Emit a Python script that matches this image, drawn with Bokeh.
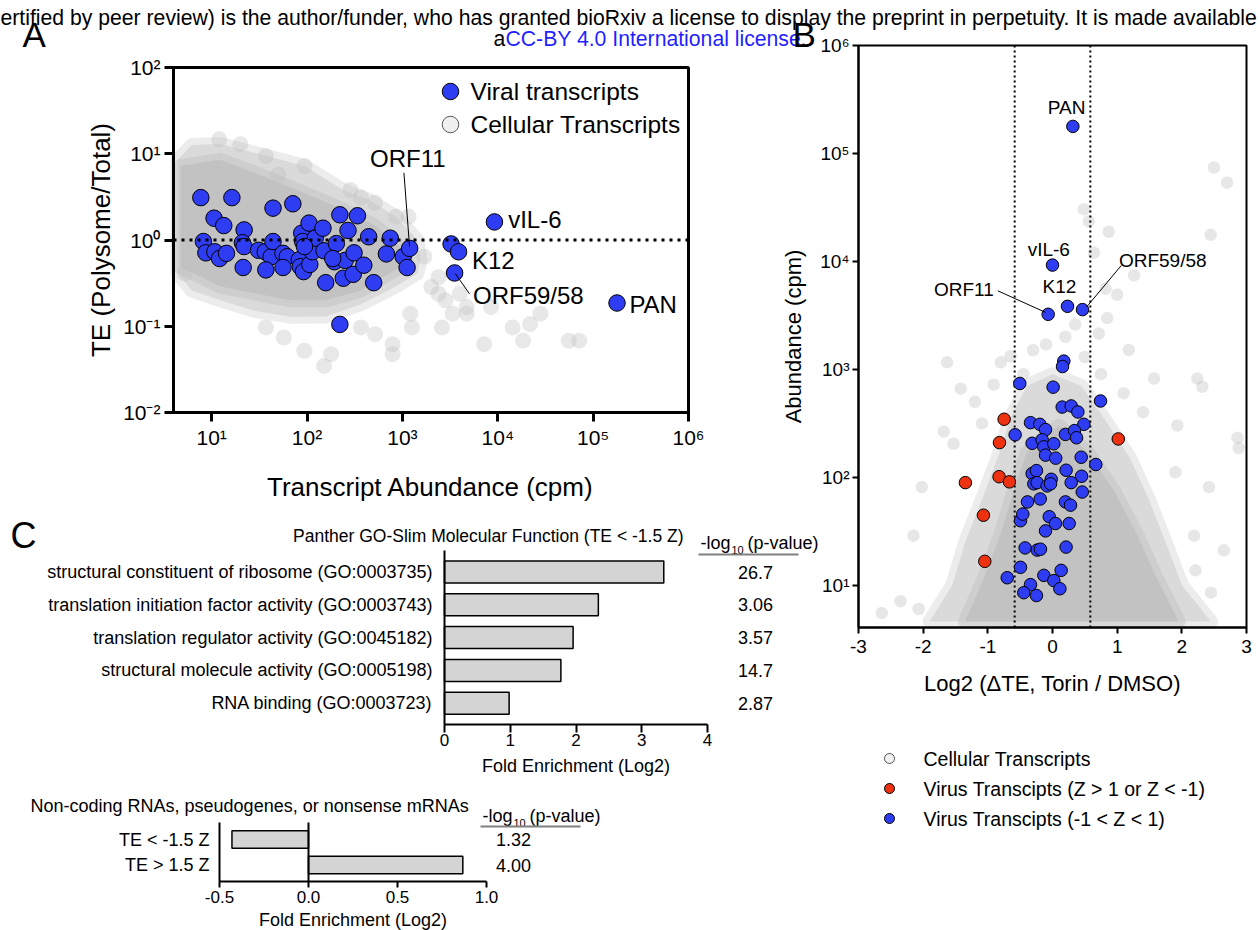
import math
from bokeh.plotting import figure
from bokeh.models import (Range1d, LogScale, LinearAxis, LogAxis, FixedTicker,
                          CustomJSTickFormatter, NumeralTickFormatter)
from bokeh.core.properties import value
from bokeh.embed import file_html
from bokeh.resources import INLINE

# ===================== DATA =====================
# ---- Panel A: TE vs transcript abundance ----
viral_a_cpm = [7.7, 16.3, 44, 71, 10.6, 13.4, 21.9, 8.2, 8.7, 10.8, 12.1, 14.3, 21, 21.9, 21.4,
               31, 36.5, 42, 44, 37, 56, 62, 56, 88, 90, 105, 83, 85, 92, 107, 114, 122, 147, 151,
               157, 194, 203, 221, 269, 240, 251, 311, 305, 338, 394, 443, 500, 680, 746, 1020,
               1120, 1190, 221, 3240, 3880, 3530, 9230, 178000, 94, 186]
viral_a_te = [3.1, 3.1, 2.34, 2.63, 1.79, 1.47, 1.31, 0.96, 0.71, 0.73, 0.61, 0.70, 0.93, 0.84,
              0.48, 0.76, 0.73, 0.64, 0.96, 0.45, 0.70, 0.64, 0.48, 1.20, 0.96, 1.57, 0.59, 0.49,
              0.43, 0.52, 0.73, 1.05, 1.37, 0.75, 0.32, 0.56, 0.91, 1.96, 1.29, 0.36, 0.58, 0.71,
              0.40, 1.91, 0.51, 1.09, 0.32, 0.69, 1.05, 0.64, 0.48, 0.80, 0.105, 0.90, 0.73,
              0.415, 1.62, 0.186, 0.84, 0.61]
# sparse cellular transcripts (outside the dense cloud)
cell_a_cpm = [12, 20, 37, 50, 94, 285, 368, 517, 861, 1160, 1700, 2010, 2390, 2830, 3360, 4720,
              2600, 1260, 1210, 790, 790, 517, 368, 179, 151, 94, 57, 37, 7200, 14300, 18400,
              21800, 55500, 71600, 5.2, 2390, 4000, 4720, 8500, 3360, 28100]
cell_a_te = [14.7, 12.9, 9.4, 5.7, 7.2, 3.8, 3.1, 2.7, 1.87, 1.87, 0.64, 0.285, 0.238, 0.20,
             0.14, 0.14, 0.097, 0.097, 0.14, 0.062, 0.0475, 0.081, 0.097, 0.0475, 0.0347, 0.052,
             0.074, 0.097, 0.062, 0.097, 0.068, 0.106, 0.068, 0.068, 0.41, 0.37, 0.238, 0.167,
             0.167, 0.41, 0.14]
# envelope of the dense cloud of cellular transcripts
cloud_a_outer_cpm = [4.4, 6.2, 12.3, 28.7, 94, 240, 437, 861, 1435, 1550,
                     1435, 861, 368, 157, 67, 28.7, 12.3, 6.2, 4.4]
cloud_a_outer_te = [8.5, 12.6, 13, 10.2, 7.2, 3.8, 2.95, 1.86, 1.0, 0.59,
                    0.41, 0.29, 0.18, 0.13, 0.129, 0.15, 0.2, 0.26, 0.41]
cloud_a_core_cpm = [4.7, 12.3, 28.7, 94, 240, 523, 950, 950, 368, 157, 67, 28.7, 12.3, 4.7]
cloud_a_core_te = [7.2, 8.5, 6.0, 3.5, 2.24, 1.45, 0.83, 0.49, 0.26, 0.2, 0.2, 0.24, 0.29, 0.49]

# ---- Panel B: abundance vs log2 delta TE ----
blue_b_dte = [0.315, 0.0, -0.067, 0.232, 0.464, 0.175, 0.155, -0.506, 0.01, 0.743, 0.15, 0.289,
              0.392, -0.34, -0.196, -0.108, 0.485, -0.578, -0.315, -0.16, -0.134, 0.02, 0.2,
              0.34, 0.372, -0.108, 0.05, 0.444, 0.67, 0.21, -0.315, -0.248, 0.45, -0.02, -0.289,
              -0.237, -0.083, -0.03, 0.289, 0.46, -0.387, -0.19, 0.2, 0.279, -0.495, -0.459,
              -0.05, 0.046, 0.258, -0.108, -0.423, -0.237, -0.186, 0.21, -0.495, -0.7, -0.134,
              0.134, 0.02, -0.34, 0.114, -0.444, -0.248]
blue_b_cpm = [178000, 9230, 3230, 3830, 3570, 1190, 1060, 738, 682, 508, 446, 457, 402, 320,
              309, 276, 309, 247, 206, 222, 191, 204, 249, 270, 232, 160, 150, 153, 131, 116,
              108, 115, 102, 95.6, 86.7, 89, 83, 86.7, 89, 72.8, 59, 62.8, 59, 55, 39.5, 45.5,
              43, 37.2, 37.2, 31.8, 22.1, 21.1, 21.5, 22.5, 14.6, 11.7, 12.3, 13.7, 11, 10.1,
              9.25, 8.5, 8.0]
red_b_dte = [-0.748, -0.82, 1.017, -1.347, -0.826, -0.666, -1.068, -1.047]
red_b_cpm = [344, 209, 226, 89, 101, 90.5, 44.4, 16.6]
cell_b_dte = [2.497, 2.7, 2.446, 0.485, 0.87, 0.56, 0.64, 1.0, 0.82, 1.26, 0.846, 0.717, 1.18,
              1.57, 2.317, 2.24, 1.93, 2.86, 2.88, -1.63, -1.42, -1.09, -1.68, -1.53, -2.02,
              -2.15, -2.35, -2.64, -2.07, 2.45, 2.21, 2.65, 2.19, 2.42, 1.9, -0.8, -0.91, -0.65,
              -0.3, 0.2, 0.5, 0.75, -0.45, 1.1, -1.2, 1.4, 0.35, -0.1]
cell_b_cpm = [74000, 53600, 17600, 30400, 18800, 23500, 12000, 4900, 5570, 7400, 2980, 2140,
              1510, 820, 689, 820, 301, 232, 186, 1160, 661, 315, 264, 204, 81, 28.7, 7.1, 5.5,
              6.0, 8.5, 13.7, 21, 28.7, 81, 111, 1160, 720, 1320,
              1500, 2000, 1300, 900, 900, 600, 500, 400, 2600, 1700]
cloud_b_outer_dte = [-1.9, -1.55, -1.35, -1.1, -0.85, -0.65, -0.4, 0.0, 0.45, 0.8, 1.2, 1.5,
                     1.75, 2.0, 2.45]
cloud_b_outer_cpm = [4.6, 10, 25, 60, 150, 350, 700, 900, 700, 350, 150, 60, 25, 10, 4.6]
cloud_b_core_dte = [-1.35, -1.05, -0.8, -0.6, -0.4, 0.1, 0.55, 0.95, 1.3, 1.6, 1.95]
cloud_b_core_cpm = [4.6, 12, 30, 75, 170, 300, 170, 75, 30, 12, 4.6]

# ---- Panel C ----
go_terms = ["structural constituent of ribosome (GO:0003735)",
            "translation initiation factor activity (GO:0003743)",
            "translation regulator activity (GO:0045182)",
            "structural molecule activity (GO:0005198)",
            "RNA binding (GO:0003723)"]
go_fold = [3.335, 2.34, 1.956, 1.77, 0.983]
go_pval = ["26.7", "3.06", "3.57", "14.7", "2.87"]
nc_groups = ["TE < -1.5 Z", "TE > 1.5 Z"]
nc_fold = [-0.43, 0.867]
nc_pval = ["1.32", "4.00"]

# ===================== LAYOUT / STYLE =====================
W, H = 1260, 930
FONT = "Liberation Sans"
BLUE = "#2f3df2"
RED = "#ee3110"
GRAY_OUT = "#dadada"
GRAY_CORE = "#c2c2c2"

SUP_JS = """
const sup = {"-": "\u207b", "0": "\u2070", "1": "\u00b9", "2": "\u00b2", "3": "\u00b3",
             "4": "\u2074", "5": "\u2075", "6": "\u2076", "7": "\u2077", "8": "\u2078", "9": "\u2079"};
const e = String(Math.round(Math.log10(tick)));
let s = "";
for (const c of e) { s += sup[c]; }
return "10" + s;
"""


def lin_range(v0, p0, v1, p1, size, flip=False):
    """Range over the whole canvas so that value v0 sits at pixel p0 and v1 at pixel p1."""
    k = (v1 - v0) / (p1 - p0)
    a = v0 - k * p0
    if flip:  # vertical: range start is at the canvas bottom
        return Range1d(a + k * size, a)
    return Range1d(a, a + k * size)


def log_range(v0, p0, v1, p1, size, flip=False):
    r = lin_range(math.log10(v0), p0, math.log10(v1), p1, size, flip)
    return Range1d(10 ** r.start, 10 ** r.end)


p = figure(width=W, height=H, output_backend="svg", toolbar_location=None,
           x_range=Range1d(0, W), y_range=Range1d(H, 0),
           x_axis_type=None, y_axis_type=None, min_border=0)
p.outline_line_color = None
p.background_fill_color = "white"
p.border_fill_color = "white"

# panel frames in page pixels
A_L, A_R, A_T, A_B = 173, 688, 67, 412
B_L, B_R, B_T, B_B = 858, 1246, 45, 627
A_X0, A_X1, A_Y0, A_Y1 = 10 ** 0.6, 1e6, 0.01, 100
B_X0, B_X1, B_Y0, B_Y1 = -3, 3, 10 ** 0.607, 1e6

p.extra_x_ranges = {
    "ax": log_range(A_X0, A_L, A_X1, A_R, W),
    "bx": lin_range(B_X0, B_L, B_X1, B_R, W),
    "c1x": lin_range(0, 444, 4, 707, W),
    "c2x": lin_range(-0.5, 219, 1.0, 486, W),
}
p.extra_y_ranges = {
    "ay": log_range(A_Y0, A_B, A_Y1, A_T, H, flip=True),
    "by": log_range(B_Y0, B_B, B_Y1, B_T, H, flip=True),
    "c1y": lin_range(0, 571.5, 1, 604.3, H, flip=True),
    "c2y": lin_range(0, 839, 1, 864.5, H, flip=True),
}
p.extra_x_scales = {"ax": LogScale()}
p.extra_y_scales = {"ay": LogScale(), "by": LogScale()}

RA = dict(x_range_name="ax", y_range_name="ay")
RB = dict(x_range_name="bx", y_range_name="by")
RC1 = dict(x_range_name="c1x", y_range_name="c1y")
RC2 = dict(x_range_name="c2x", y_range_name="c2y")


def add_axis(cls, side, rng, loc, bounds, ticks, lw, tick_out, lab_px, standoff,
             formatter=None, overrides=None):
    ax = cls(fixed_location=loc, bounds=bounds, ticker=FixedTicker(ticks=ticks), **rng)
    ax.axis_line_color = "black"
    ax.axis_line_width = lw
    ax.major_tick_line_color = "black" if tick_out > 0 else None
    ax.major_tick_line_width = lw
    ax.major_tick_out = tick_out
    ax.major_tick_in = 0
    ax.minor_tick_line_color = None
    ax.major_label_text_font = FONT
    ax.major_label_text_font_size = f"{lab_px}px"
    ax.major_label_text_color = "black"
    ax.major_label_standoff = standoff
    if formatter is not None:
        ax.formatter = formatter
    if overrides is not None:
        ax.major_label_overrides = overrides
    p.add_layout(ax, side)
    return ax


def txt(x, y, t, size, align="left", baseline="middle", color="black", rng=None, **kw):
    p.text(x=x, y=y, text=t, text_font=value(FONT), text_font_size=f"{size}px",
           text_align=align, text_baseline=baseline, text_color=color, **(rng or {}), **kw)


# ===================== PANEL A =====================
p.patch(cloud_a_outer_cpm, cloud_a_outer_te, fill_color=GRAY_OUT, line_color=GRAY_OUT,
        line_width=14, line_alpha=0.5, line_join="round", **RA)
p.patch(cloud_a_core_cpm, cloud_a_core_te, fill_color=GRAY_CORE, line_color=GRAY_CORE,
        line_width=14, line_alpha=0.5, line_join="round", **RA)
p.scatter(cell_a_cpm, cell_a_te, size=16, fill_color="#bdbdbd", fill_alpha=0.35,
          line_color=None, **RA)
p.scatter(viral_a_cpm, viral_a_te, size=16.5, fill_color=BLUE, line_color="black",
          line_width=1, **RA)
p.segment(x0=[A_X0], y0=[1], x1=[A_X1], y1=[1], line_color="black", line_width=3,
          line_dash="3 5", **RA)
p.quad(left=[A_X0], right=[A_X1], bottom=[A_Y0], top=[A_Y1], fill_color=None,
       line_color="black", line_width=3, **RA)
txt([1140], [8.75], ["ORF11"], 24, align="center", rng=RA)
p.segment(x0=[1038], y0=[6.0], x1=[1189], y1=[0.84], line_color="black", line_width=1, **RA)
txt([12850], [1.74], ["vIL-6"], 24, rng=RA)
txt([5360], [0.585], ["K12"], 24, rng=RA)
txt([5500], [0.228], ["ORF59/58"], 24, rng=RA)
p.segment(x0=[3590], y0=[0.408], x1=[5050], y1=[0.238], line_color="black", line_width=1, **RA)
txt([240000], [0.177], ["PAN"], 24, rng=RA)

add_axis(LogAxis, "below", RA, A_Y0, (A_X0, A_X1), [10, 100, 1e3, 1e4, 1e5, 1e6], 3, 9, 21, 4,
         formatter=CustomJSTickFormatter(code=SUP_JS))
add_axis(LogAxis, "left", RA, A_X0, (A_Y0, A_Y1), [0.01, 0.1, 1, 10, 100], 3, 9, 21, 4,
         formatter=CustomJSTickFormatter(code=SUP_JS))
txt([430], [486], ["Transcript Abundance (cpm)"], 26, align="center")
txt([100], [(A_T + A_B) / 2], ["TE (Polysome/Total)"], 26, align="center", angle=math.pi / 2)

# legend panel A
p.scatter([450, 450], [91, 124], size=16.5, fill_color=[BLUE, "#f0f0f0"],
          line_color=["black", "#555555"], line_width=1)
txt([470, 470], [91, 124], ["Viral transcripts", "Cellular Transcripts"], 24.5)

# ===================== PANEL B =====================
p.patch(cloud_b_outer_dte, cloud_b_outer_cpm, fill_color=GRAY_OUT, line_color=GRAY_OUT,
        line_width=14, line_alpha=0.5, line_join="round", **RB)
p.patch(cloud_b_core_dte, cloud_b_core_cpm, fill_color=GRAY_CORE, line_color=GRAY_CORE,
        line_width=14, line_alpha=0.5, line_join="round", **RB)
p.scatter(cell_b_dte, cell_b_cpm, size=12.5, fill_color="#c4c4c4", fill_alpha=0.4,
          line_color=None, **RB)
p.segment(x0=[-0.585, 0.585], y0=[B_Y0, B_Y0], x1=[-0.585, 0.585], y1=[B_Y1, B_Y1],
          line_color="black", line_width=2, line_dash="2 3", **RB)
p.scatter(red_b_dte, red_b_cpm, size=12.5, fill_color=RED, line_color="black", line_width=1, **RB)
p.scatter(blue_b_dte, blue_b_cpm, size=12.5, fill_color=BLUE, line_color="black",
          line_width=1, **RB)
p.quad(left=[B_X0], right=[B_X1], bottom=[B_Y0], top=[B_Y1], fill_color=None,
       line_color="black", line_width=2, **RB)
txt([0.217], [268500], ["PAN"], 19, align="center", rng=RB)
txt([-0.057], [12970], ["vIL-6"], 19, align="center", rng=RB)
txt([0.108], [5820], ["K12"], 19, align="center", rng=RB)
txt([-0.908], [5470], ["ORF11"], 19, align="right", rng=RB)
p.segment(x0=[-0.846], y0=[5330], x1=[-0.108], y1=[3365], line_color="black", line_width=1, **RB)
txt([1.027], [10260], ["ORF59/58"], 19, rng=RB)
p.segment(x0=[1.063], y0=[9140], x1=[0.526], y1=[3770], line_color="black", line_width=1, **RB)

add_axis(LinearAxis, "below", RB, B_Y0, (B_X0, B_X1), [-3, -2, -1, 0, 1, 2, 3], 2, 6, 19, 6,
         formatter=NumeralTickFormatter(format="0"))
add_axis(LogAxis, "left", RB, B_X0, (B_Y0, B_Y1), [10, 100, 1e3, 1e4, 1e5, 1e6], 2, 6, 19, 3,
         formatter=CustomJSTickFormatter(code=SUP_JS))
txt([(B_L + B_R) / 2], [683], ["Log2 (\u0394TE, Torin / DMSO)"], 22, align="center")
txt([793], [(B_T + B_B) / 2], ["Abundance (cpm)"], 22, align="center", angle=math.pi / 2)

# legend panel B
p.scatter([889, 889, 889], [758, 788, 818], size=10, fill_color=["#f2f2f2", RED, BLUE],
          line_color=["#555555", "black", "black"], line_width=1)
txt([923, 923, 923], [758, 788, 818],
    ["Cellular Transcripts", "Virus Transcipts (Z > 1 or Z < -1)",
     "Virus Transcipts (-1 < Z < 1)"], 19.5)

# ===================== PANEL C (GO terms) =====================
go_idx = list(range(len(go_terms)))
p.hbar(y=go_idx, right=go_fold, left=0, height=0.67, fill_color="#d4d4d4",
       line_color="black", line_width=1.5, **RC1)
add_axis(LinearAxis, "below", RC1, 4.645, (0, 4), [0, 1, 2, 3, 4], 2, 8, 17, 2)
add_axis(LinearAxis, "left", RC1, 0, (-0.645, 4.645), go_idx, 2, 0, 18, 12,
         overrides={i: t for i, t in zip(go_idx, go_terms)})
txt([575.5], [765.7], ["Fold Enrichment (Log2)"], 18, align="center")
txt([683], [535], ["Panther GO-Slim Molecular Function (TE < -1.5 Z)"], 17.5, align="right")
txt([700], [542], ["-log"], 18)
txt([731], [549], ["10"], 11)
txt([747], [542], ["(p-value)"], 18)
p.segment(x0=[698], y0=[554], x1=[798], y1=[554], line_color="#808080", line_width=2)
txt([755] * len(go_pval), go_idx, go_pval, 18, align="center",
    rng=dict(x_range_name="default", y_range_name="c1y"))

# ===================== PANEL C (non-coding) =====================
nc_idx = list(range(len(nc_groups)))
p.hbar(y=nc_idx, right=nc_fold, left=0, height=0.69, fill_color="#d4d4d4",
       line_color="black", line_width=1.5, **RC2)
p.segment(x0=[0], y0=[-0.667], x1=[0], y1=[1.647], line_color="black", line_width=2, **RC2)
add_axis(LinearAxis, "below", RC2, 1.647, (-0.5, 1.0), [-0.5, 0, 0.5, 1.0], 2, 6, 17, 4,
         formatter=NumeralTickFormatter(format="0.0"))
add_axis(LinearAxis, "left", RC2, -0.5, (-0.667, 1.647), nc_idx, 2, 0, 18, 10,
         overrides={i: t for i, t in zip(nc_idx, nc_groups)})
txt([352.5], [919], ["Fold Enrichment (Log2)"], 18, align="center")
txt([30], [805], ["Non-coding RNAs, pseudogenes, or nonsense mRNAs"], 18)
txt([482], [815], ["-log"], 18)
txt([513], [822], ["10"], 11)
txt([529], [815], ["(p-value)"], 18)
p.segment(x0=[480], y0=[826], x1=[580], y1=[826], line_color="#808080", line_width=2)
txt([513] * len(nc_pval), nc_idx, nc_pval, 18, align="center",
    rng=dict(x_range_name="default", y_range_name="c2y"))

# ===================== HEADER / PANEL LETTERS =====================
txt([0], [17], ["ertified by peer review) is the author/funder, who has granted bioRxiv a "
                "license to display the preprint in perpetuity. It is made available"],
    21.2, baseline="alphabetic")
txt([493], [38], ["a"], 21.2, baseline="alphabetic")
txt([505], [38], ["CC-BY 4.0 International license"], 21.2, baseline="alphabetic",
    color="#1f1fff")
txt([800], [38], ["."], 21.2, baseline="alphabetic")
txt([22], [34], ["A"], 35, baseline="alphabetic")
txt([792], [34], ["B"], 35, baseline="alphabetic")
txt([10], [535], ["C"], 36, baseline="alphabetic")

open("out.html", "w").write(file_html(p, INLINE, title="KSHV translation efficiency"))
